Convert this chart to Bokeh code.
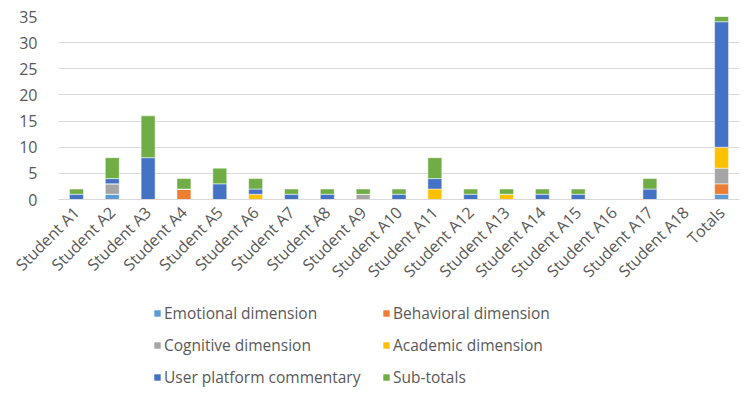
from bokeh.plotting import figure
from bokeh.layouts import column
from bokeh.models import ColumnDataSource, Legend, LegendItem, SingleIntervalTicker, FactorRange
from bokeh.embed import file_html
from bokeh.resources import INLINE
import math

categories = ["Student A1", "Student A2", "Student A3", "Student A4", "Student A5", "Student A6",
              "Student A7", "Student A8", "Student A9", "Student A10", "Student A11", "Student A12",
              "Student A13", "Student A14", "Student A15", "Student A16", "Student A17", "Student A18",
              "Totals"]
emotional  = [0, 1, 0, 0, 0, 0, 0, 0, 0, 0, 0, 0, 0, 0, 0, 0, 0, 0, 1]
behavioral = [0, 0, 0, 2, 0, 0, 0, 0, 0, 0, 0, 0, 0, 0, 0, 0, 0, 0, 2]
cognitive  = [0, 2, 0, 0, 0, 0, 0, 0, 1, 0, 0, 0, 0, 0, 0, 0, 0, 0, 3]
academic   = [0, 0, 0, 0, 0, 1, 0, 0, 0, 0, 2, 0, 1, 0, 0, 0, 0, 0, 4]
user_pc    = [1, 1, 8, 0, 3, 1, 1, 1, 0, 1, 2, 1, 0, 1, 1, 0, 2, 0, 24]
subtotals  = [1, 4, 8, 2, 3, 2, 1, 1, 1, 1, 4, 1, 1, 1, 1, 0, 2, 0, 1]

series_names = ["Emotional dimension", "Behavioral dimension", "Cognitive dimension",
                "Academic dimension", "User platform commentary", "Sub-totals"]
keys = ["emotional", "behavioral", "cognitive", "academic", "user_pc", "subtotals"]
colors = ["#5B9BD5", "#ED7D31", "#A5A5A5", "#FFC000", "#4472C4", "#70AD47"]

source = ColumnDataSource(dict(cat=categories, emotional=emotional, behavioral=behavioral,
                               cognitive=cognitive, academic=academic, user_pc=user_pc,
                               subtotals=subtotals))

FONT = "Open Sans"
TXT = "#595959"

p = figure(x_range=FactorRange(*categories), y_range=(0, 35), width=744, height=292,
           output_backend="svg", toolbar_location=None,
           min_border_left=58, min_border_right=5, min_border_top=16, min_border_bottom=92)
p.outline_line_color = None

renderers = p.vbar_stack(keys, x="cat", width=0.39, color=colors, source=source,
                         line_color="white", line_width=0.5)

p.xgrid.grid_line_color = None
p.ygrid.grid_line_color = "#D9D9D9"
p.ygrid.grid_line_width = 1
p.yaxis.ticker = SingleIntervalTicker(interval=5)
p.yaxis.axis_line_color = None
p.yaxis.major_tick_line_color = None
p.yaxis.minor_tick_line_color = None
p.yaxis.major_label_text_font = FONT
p.yaxis.major_label_text_font_size = "16px"
p.yaxis.major_label_text_color = TXT
p.yaxis.major_label_standoff = 15

p.xaxis.axis_line_color = "#D9D9D9"
p.xaxis.major_tick_line_color = None
p.xaxis.minor_tick_line_color = None
p.xaxis.major_label_orientation = math.pi / 4
p.xaxis.major_label_text_font = FONT
p.xaxis.major_label_text_font_size = "16px"
p.xaxis.major_label_text_color = TXT
p.xaxis.major_label_standoff = 4

# legend panel below the chart (its bars lie outside the visible y range)
p2 = figure(width=744, height=98, output_backend="svg", toolbar_location=None,
            x_axis_type=None, y_axis_type=None, min_border=0,
            x_range=FactorRange(*categories), y_range=(100, 101))
p2.outline_line_color = None
p2.xgrid.grid_line_color = None
p2.ygrid.grid_line_color = None

leg_renderers = p2.vbar_stack(keys, x="cat", width=0.39, color=colors, source=source,
                              line_color=None)
items = [LegendItem(label=n, renderers=[r]) for n, r in zip(series_names, leg_renderers)]

def make_legend(its, x):
    return Legend(items=its, orientation="vertical", location=(x, 1),
                  padding=0, margin=0, spacing=8, label_height=24, glyph_height=8, glyph_width=8,
                  label_standoff=3, border_line_color=None, background_fill_alpha=0,
                  label_text_font=FONT, label_text_font_size="15.5px", label_text_color=TXT)

p2.add_layout(make_legend([items[0], items[2], items[4]], 95), "center")
p2.add_layout(make_legend([items[1], items[3], items[5]], 324), "center")

layout = column(p, p2, spacing=0)
open("out.html", "w").write(file_html(layout, INLINE))
